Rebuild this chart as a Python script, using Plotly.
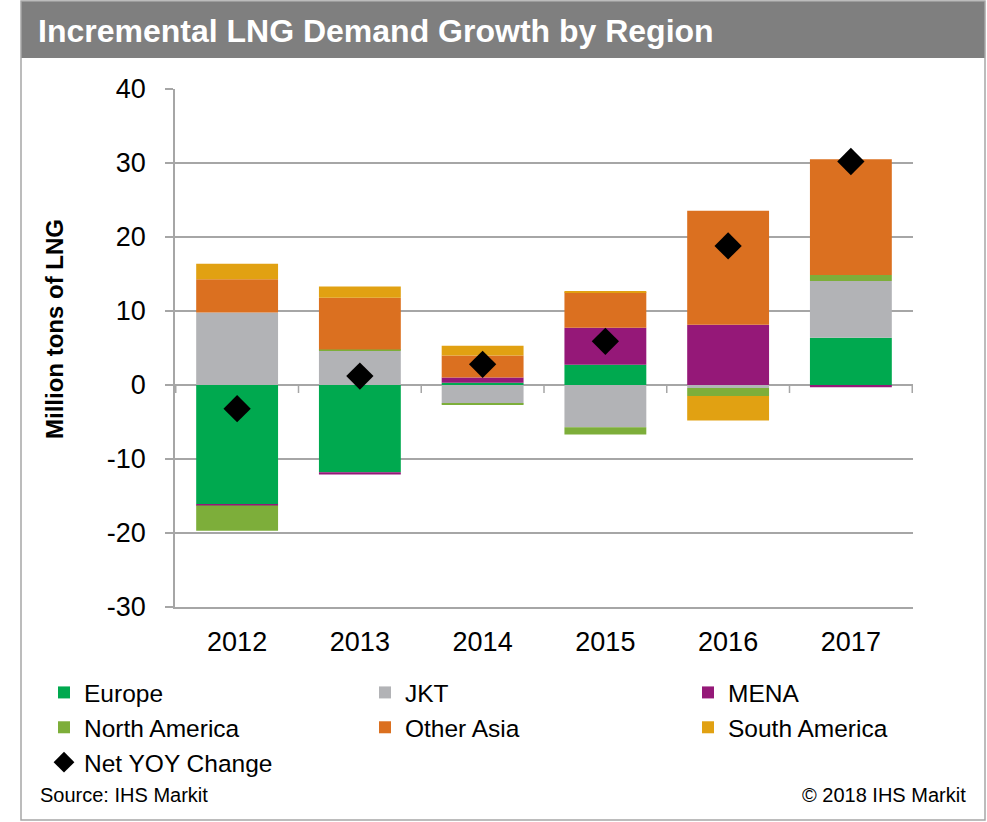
import plotly.graph_objects as go

years = ["2012", "2013", "2014", "2015", "2016", "2017"]
europe = [-16.1, -11.8, 0.3, 2.75, 0.0, 6.4]
jkt = [9.8, 4.6, -2.5, -5.7, -0.4, 7.65]
mena = [-0.2, -0.3, 0.7, 5.0, 8.15, -0.3]
north_america = [-3.4, 0.2, -0.2, -1.0, -1.1, 0.8]
other_asia = [4.5, 7.0, 3.0, 4.8, 15.4, 15.65]
south_america = [2.1, 1.5, 1.3, 0.1, -3.3, 0.0]
net_yoy = [-3.2, 1.2, 2.8, 5.9, 18.8, 30.2]

y_ticks = [-30, -20, -10, 0, 10, 20, 30, 40]
y_tick_labels = ["-30", "-20", "-10", "0", "10", "20", "30", "40"]

W, H = 987, 822
ML, MR, MT, MB = 175, 74, 89, 215
PW, PH = W - ML - MR, H - MT - MB

def px_x(p):
    return (p - ML) / PW

def px_y(p):
    return (H - MB - p) / PH

FONT = "Liberation Sans, Arial, sans-serif"

series = [
    ("Europe", europe, "#00a94f", "legend"),
    ("JKT", jkt, "#b2b3b6", "legend2"),
    ("MENA", mena, "#951878", "legend3"),
    ("North America", north_america, "#7dae3a", "legend"),
    ("Other Asia", other_asia, "#db7020", "legend2"),
    ("South America", south_america, "#e1a112", "legend3"),
]

fig = go.Figure()
for name, vals, color, lg in series:
    fig.add_trace(go.Bar(
        x=years, y=vals, name=name, marker=dict(color=color, line=dict(width=0)),
        legend=lg,
    ))

fig.add_trace(go.Scatter(
    x=years, y=net_yoy, name="Net YOY Change", mode="markers",
    marker=dict(symbol="diamond", size=21, color="black"),
    legend="legend",
))

grid_col = "#a6a6a6"

shapes = []
# title bar
shapes.append(dict(type="rect", xref="paper", yref="paper",
                   x0=px_x(21), x1=px_x(985), y0=px_y(58), y1=px_y(1),
                   fillcolor="#7f7f7f", line=dict(width=0), layer="below"))
# outer frame
shapes.append(dict(type="rect", xref="paper", yref="paper",
                   x0=px_x(21), x1=px_x(985), y0=px_y(820), y1=px_y(1),
                   fillcolor="rgba(0,0,0,0)", line=dict(color="#a6a6a6", width=1.5)))
# category tick marks on the zero line
for i in range(len(years) + 1):
    shapes.append(dict(type="line", xref="x", yref="y", ysizemode="pixel", yanchor=0,
                       x0=i - 0.5, x1=i - 0.5, y0=0, y1=-8,
                       line=dict(color=grid_col, width=1.5)))

leg_common = dict(xref="container", yref="container", xanchor="left", yanchor="top",
                  orientation="v", font=dict(size=24.5), bgcolor="rgba(0,0,0,0)",
                  tracegroupgap=0)
LEG_TOP = 1 - 670 / H

fig.update_layout(
    width=W, height=H,
    margin=dict(l=ML, r=MR, t=MT, b=MB, autoexpand=False),
    paper_bgcolor="white", plot_bgcolor="white",
    barmode="relative", bargap=0.333,
    font=dict(family=FONT, color="black"),
    title=dict(text="Incremental LNG Demand Growth by Region",
               font=dict(family=FONT, size=32, color="white", weight="bold"),
               xref="container", yref="container", x=38 / W, xanchor="left",
               y=1 - 31 / H, yanchor="middle"),
    xaxis=dict(type="category", showgrid=False, showline=True, linecolor=grid_col,
               linewidth=1.5, ticks="", tickfont=dict(size=27), ticklabelstandoff=10),
    yaxis=dict(range=[-30, 40], tickvals=y_ticks, ticktext=y_tick_labels,
               showgrid=True, gridcolor=grid_col,
               gridwidth=1.5, zeroline=True, zerolinecolor=grid_col, zerolinewidth=1.5,
               showline=True, linecolor=grid_col, linewidth=1.5,
               ticks="outside", ticklen=8, tickcolor=grid_col, tickwidth=1.5,
               tickfont=dict(size=27), ticklabelstandoff=14),
    shapes=shapes,
    legend=dict(x=44 / W, y=LEG_TOP, **leg_common),
    legend2=dict(x=365 / W, y=LEG_TOP, **leg_common),
    legend3=dict(x=688 / W, y=LEG_TOP, **leg_common),
    annotations=[
        dict(text="<b>Million tons of LNG</b>", xref="paper", yref="paper",
             x=px_x(54), y=px_y(329), xanchor="center", yanchor="middle",
             textangle=-90, showarrow=False, font=dict(size=24)),
        dict(text="Source: IHS Markit", xref="paper", yref="paper",
             x=px_x(38), y=px_y(795), xanchor="left", yanchor="middle",
             showarrow=False, font=dict(size=20)),
        dict(text="© 2018 IHS Markit", xref="paper", yref="paper",
             x=px_x(968), y=px_y(795), xanchor="right", yanchor="middle",
             showarrow=False, font=dict(size=20)),
    ],
)

fig.write_html("out.html", config={"displayModeBar": False},
               post_script="document.body.style.margin='0';")
